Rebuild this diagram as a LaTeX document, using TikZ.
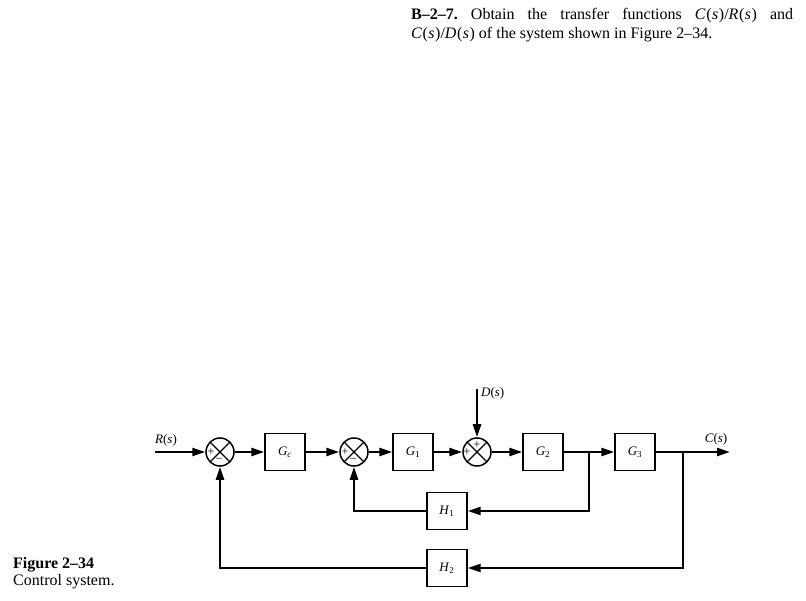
\documentclass[tikz,border=0pt]{standalone}
\usepackage{fontspec}
\setmainfont{Liberation Serif}
\usetikzlibrary{arrows.meta}
\frenchspacing

\newcommand{\fs}[1]{\textit{#1}\kern0.6pt(\kern0.4pt\textit{s}\kern0.6pt)}

\tikzset{
  block/.style={draw, line width=1.3pt, minimum width=40pt, minimum height=37pt,
    inner sep=0pt, font=\fontsize{13}{15}\selectfont},
  sumjn/.style={draw, circle, line width=1.5pt, minimum size=28pt, inner sep=0pt,
    path picture={\draw[line width=1.2pt]
      (path picture bounding box.north west) -- (path picture bounding box.south east)
      (path picture bounding box.north east) -- (path picture bounding box.south west);}},
  sgn/.style={inner sep=0pt, font=\fontsize{12}{12}\selectfont},
  sig/.style={line width=2.4pt, -{Triangle[length=13pt,width=8pt]}},
  lbl/.style={inner sep=0pt, font=\fontsize{13}{15}\selectfont},
}

\begin{document}
\begin{tikzpicture}[x=1pt,y=-1pt]
            \useasboundingbox (0,0) rectangle (806,601);
            \node[anchor=north west, inner sep=0pt, text width=382pt, align=justify,
              font=\fontsize{16}{19}\selectfont] (task) at (411,8)
              {\textbf{B–2–7.} Obtain the transfer functions \fs{C}/\fs{R} and\linebreak
               \fs{C}/\fs{D} of the system shown in Figure 2–34.};
            \node[anchor=north west, inner sep=0pt, align=left,
              font=\fontsize{16}{17}\selectfont] (cap) at (13,557)
              {\textbf{Figure 2–34}\\Control system.};
            % forward path
            \coordinate (rin) at (155,452);
            \node[sumjn] (s1) at (220,452) {};
            \node[block] (gc) at (285,452) {\textit{G}\textsubscript{\textit{c}}};
            \node[sumjn] (s2) at (354,452) {};
            \node[block] (g1) at (413,452) {\textit{G}\textsubscript{1}};
            \node[sumjn] (s3) at (477,452) {};
            \node[block] (g2) at (543,452) {\textit{G}\textsubscript{2}};
            \node[block] (g3) at (635,452) {\textit{G}\textsubscript{3}};
            \coordinate (cout) at (730,452);
            \coordinate (din) at (477,389);
            \coordinate (b1) at (589,452);
            \coordinate (b2) at (683,452);
            % feedback blocks
            \node[block] (h1) at (447,511) {\textit{H}\textsubscript{1}};
            \node[block] (h2) at (447,568) {\textit{H}\textsubscript{2}};
            % signs
            \node[sgn] (p1) at ([xshift=-9pt]s1.center) {+};
            \node[sgn] (m1) at ([xshift=-1pt,yshift=-8pt]s1.center) {–};
            \node[sgn] (p2) at ([xshift=-9pt]s2.center) {+};
            \node[sgn] (m2) at ([xshift=-1pt,yshift=-8pt]s2.center) {–};
            \node[sgn] (p3) at ([xshift=-10pt]s3.center) {+};
            \node[sgn] (p4) at ([yshift=7pt]s3.center) {+};
            % labels
            \node[lbl] (rl) at (166,440) {\textit{R}(\textit{s})};
            \node[lbl, anchor=west] (dl) at (481,393) {\textit{D}(\textit{s})};
            \node[lbl] (cl) at (716,439) {\textit{C}(\textit{s})};
            % connections
            \draw[sig] (rin) -- (s1);
            \draw[sig] (s1) -- (gc);
            \draw[sig] (gc) -- (s2);
            \draw[sig] (s2) -- (g1);
            \draw[sig] (g1) -- (s3);
            \draw[sig] (din) -- (s3);
            \draw[sig] (s3) -- (g2);
            \draw[sig] (g2) -- (g3);
            \draw[sig] (g3) -- (cout);
            \draw[sig] (b1) |- (h1);
            \draw[sig] (h1) -| (s2);
            \draw[sig] (b2) |- (h2);
            \draw[sig] (h2) -| (s1);
        \end{tikzpicture}
\end{document}
